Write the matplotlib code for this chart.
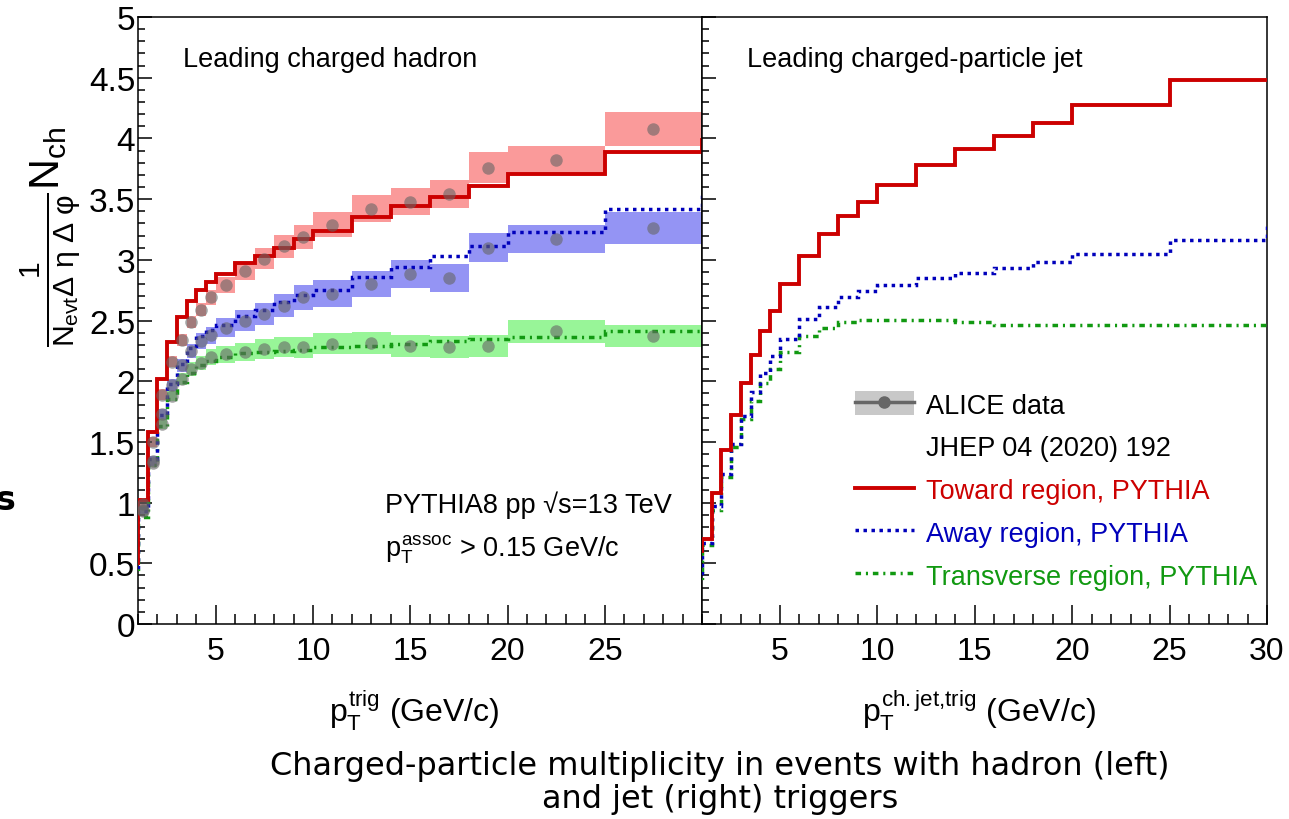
import numpy as np
import matplotlib.pyplot as plt
from matplotlib.lines import Line2D
from matplotlib.patches import Patch
from matplotlib.ticker import MultipleLocator, FuncFormatter

plt.rcParams['font.family'] = ['Liberation Sans', 'DejaVu Sans']
plt.rcParams['mathtext.fontset'] = 'custom'
plt.rcParams['mathtext.rm'] = 'Liberation Sans'
plt.rcParams['mathtext.it'] = 'Liberation Sans'
plt.rcParams['mathtext.sf'] = 'Liberation Sans'

# pT bin edges (GeV/c); the first and last bins lie just outside the drawn range
edges = [0.5, 1, 1.5, 2, 2.5, 3, 3.5, 4, 4.5, 5, 6, 7, 8, 9, 10,
         12, 14, 16, 18, 20, 25, 30, 35]

# PYTHIA, leading charged hadron trigger
toward_h = [0.50, 1.02, 1.58, 2.02, 2.32, 2.53, 2.66, 2.75, 2.82, 2.88, 2.97,
            3.03, 3.10, 3.17, 3.24, 3.355, 3.44, 3.52, 3.61, 3.71, 3.885, 3.99]
away_h = [0.47, 0.93, 1.36, 1.72, 1.98, 2.14, 2.27, 2.37, 2.42, 2.46, 2.535,
          2.59, 2.655, 2.71, 2.754, 2.856, 2.943, 3.03, 3.116, 3.226, 3.418, 3.54]
trans_h = [0.44, 0.88, 1.31, 1.63, 1.85, 1.99, 2.07, 2.13, 2.17, 2.20, 2.236,
           2.24, 2.25, 2.26, 2.28, 2.29, 2.31, 2.33, 2.345, 2.36, 2.41, 2.41]

# PYTHIA, leading charged-particle jet trigger
toward_j = [0.60, 0.70, 1.08, 1.43, 1.72, 1.985, 2.216, 2.41, 2.58, 2.80, 3.03,
            3.21, 3.36, 3.48, 3.62, 3.78, 3.91, 4.02, 4.13, 4.275, 4.48, 4.48]
away_j = [0.42, 0.67, 0.97, 1.236, 1.483, 1.716, 1.91, 2.068, 2.21, 2.35, 2.51,
          2.61, 2.69, 2.745, 2.795, 2.85, 2.89, 2.93, 2.98, 3.05, 3.16, 3.28]
trans_j = [0.36, 0.65, 0.94, 1.21, 1.455, 1.69, 1.84, 1.985, 2.10, 2.24, 2.37,
           2.44, 2.485, 2.504, 2.504, 2.504, 2.485, 2.466, 2.466, 2.466, 2.466, 2.466]

# ALICE data (bins 1-1.5 ... 25-30) with systematic uncertainties
toward_data = [0.99, 1.50, 1.89, 2.16, 2.34, 2.49, 2.59, 2.69, 2.79, 2.91,
               3.01, 3.11, 3.19, 3.29, 3.42, 3.48, 3.54, 3.76, 3.82, 4.08]
toward_sys = [0.03, 0.04, 0.045, 0.045, 0.05, 0.05, 0.055, 0.06, 0.065, 0.075,
              0.085, 0.095, 0.10, 0.105, 0.11, 0.115, 0.115, 0.13, 0.115, 0.14]
away_data = [0.94, 1.34, 1.73, 1.97, 2.13, 2.25, 2.33, 2.38, 2.44, 2.50,
             2.555, 2.62, 2.69, 2.72, 2.80, 2.88, 2.85, 3.10, 3.17, 3.26]
away_sys = [0.03, 0.04, 0.045, 0.05, 0.055, 0.06, 0.065, 0.07, 0.08, 0.085,
            0.09, 0.095, 0.10, 0.11, 0.11, 0.115, 0.115, 0.12, 0.115, 0.13]
trans_data = [0.93, 1.33, 1.65, 1.88, 2.02, 2.10, 2.15, 2.20, 2.22, 2.24,
              2.265, 2.28, 2.28, 2.31, 2.315, 2.29, 2.285, 2.29, 2.41, 2.375]
trans_sys = [0.03, 0.035, 0.04, 0.045, 0.05, 0.055, 0.06, 0.065, 0.07, 0.075,
             0.08, 0.08, 0.085, 0.09, 0.09, 0.09, 0.09, 0.09, 0.093, 0.09]

RED, BLUE, GREEN = '#cc0000', '#0000bb', '#119911'
BOX_RED, BOX_BLUE, BOX_GREEN = '#fa9a9a', '#9494f4', '#98f598'
DOTTED = (0, (1.0, 1.3))
DASHDOT = (0, (1.6, 1.4, 0.6, 1.4))
LW_RED, LW_DOT = 2.8, 2.5

e = np.array(edges)
data_lo, data_hi = e[1:-2], e[2:-1]
centers = 0.5 * (data_lo + data_hi)
widths = data_hi - data_lo

fig = plt.figure(figsize=(12.89, 8.2), dpi=100)
ax1 = fig.add_axes([138 / 1289, 195 / 820, 564 / 1289, 607 / 820])
ax2 = fig.add_axes([702 / 1289, 195 / 820, 565 / 1289, 607 / 820])

# systematic boxes (hadron trigger only)
for vals, sys, col in [(trans_data, trans_sys, BOX_GREEN),
                       (away_data, away_sys, BOX_BLUE),
                       (toward_data, toward_sys, BOX_RED)]:
    v, s = np.array(vals), np.array(sys)
    ax1.bar(centers, 2 * s, width=widths, bottom=v - s, color=col,
            linewidth=0, zorder=1)

for ax, tw, aw, tr in [(ax1, toward_h, away_h, trans_h),
                       (ax2, toward_j, away_j, trans_j)]:
    ax.stairs(tr, edges, baseline=None, color=GREEN, lw=LW_DOT,
              linestyle=DASHDOT, zorder=3)
    ax.stairs(aw, edges, baseline=None, color=BLUE, lw=LW_DOT,
              linestyle=DOTTED, zorder=3)
    ax.stairs(tw, edges, baseline=None, color=RED, lw=LW_RED, zorder=4)

for vals in [trans_data, away_data, toward_data]:
    ax1.plot(centers, vals, 'o', color='#666666', alpha=0.6, ms=9, mew=0,
             zorder=5)

for ax, ticks in [(ax1, [5, 10, 15, 20, 25]), (ax2, [5, 10, 15, 20, 25, 30])]:
    ax.set_xlim(1, 30)
    ax.set_ylim(0, 5)
    ax.set_xticks(ticks)
    ax.xaxis.set_minor_locator(MultipleLocator(1))
    ax.yaxis.set_major_locator(MultipleLocator(0.5))
    ax.yaxis.set_minor_locator(MultipleLocator(0.1))
    ax.xaxis.set_tick_params(which='major', direction='in', length=14, width=1.1,
                             labelsize=23, pad=9)
    ax.xaxis.set_tick_params(which='minor', direction='in', length=7, width=1.1)
    ax.yaxis.set_tick_params(which='major', direction='in', length=10, width=1.1,
                             labelsize=24, pad=2)
    ax.yaxis.set_tick_params(which='minor', direction='in', length=5, width=1.1)
    for sp in ax.spines.values():
        sp.set_linewidth(1.1)

ax1.yaxis.set_major_formatter(FuncFormatter(lambda v, p: f'{v:g}'))
ax2.tick_params(axis='y', labelleft=False)

ax1.set_ylabel(r'$\frac{1}{N_{evt}\Delta\ \eta\ \Delta\ \varphi}N_{ch}$',
               fontsize=31)
ax1.yaxis.set_label_coords(-0.099, 0.64)

ax1.set_xlabel(r'$p_{T}^{trig}$ (GeV/c)', fontsize=23)
ax2.set_xlabel(r'$p_{T}^{ch{.}jet{,}trig}$ (GeV/c)', fontsize=23)
ax1.xaxis.set_label_coords(0.49, -0.105)
ax2.xaxis.set_label_coords(0.49, -0.105)

ax1.text(0.08, 0.931, 'Leading charged hadron', transform=ax1.transAxes,
         fontsize=19.5, va='center')
ax2.text(0.0796, 0.931, 'Leading charged-particle jet', transform=ax2.transAxes,
         fontsize=19.5, va='center')
ax1.text(0.438, 0.198, 'PYTHIA8 pp √s=13 TeV', transform=ax1.transAxes,
         fontsize=19.5, va='center')
ax1.text(0.438, 0.124, r'$p_{T}^{assoc}$ > 0.15 GeV/c', transform=ax1.transAxes,
         fontsize=19.5, va='center')

handles = [
    (Patch(facecolor='#c8c8c8', edgecolor='none'),
     Line2D([], [], color='#666666', lw=2.5, marker='o', ms=8)),
    Line2D([], [], color='none'),
    Line2D([], [], color=RED, lw=LW_RED),
    Line2D([], [], color=BLUE, lw=LW_DOT, linestyle=DOTTED),
    Line2D([], [], color=GREEN, lw=LW_DOT, linestyle=DASHDOT),
]
labels = ['ALICE data', 'JHEP 04 (2020) 192', 'Toward region, PYTHIA',
          'Away region, PYTHIA', 'Transverse region, PYTHIA']
leg = ax2.legend(handles, labels, loc='upper left', bbox_to_anchor=(0.27, 0.3835),
                 frameon=False, fontsize=19.5, handlelength=2.2,
                 handleheight=1.0, handletextpad=0.45, labelspacing=0.57,
                 borderpad=0, borderaxespad=0)
for txt, col in zip(leg.get_texts(), ['black', 'black', RED, BLUE, GREEN]):
    txt.set_color(col)

fig.text(0.5586, 0.045,
         'Charged-particle multiplicity in events with hadron (left)\n'
         'and jet (right) triggers',
         ha='center', va='center', fontsize=23, family='DejaVu Sans',
         linespacing=1.1)
fig.text(-0.004, 0.39, 's', fontsize=24, fontweight='bold', family='DejaVu Sans',
         va='center', ha='left')

fig.savefig('out.png', dpi=100)
